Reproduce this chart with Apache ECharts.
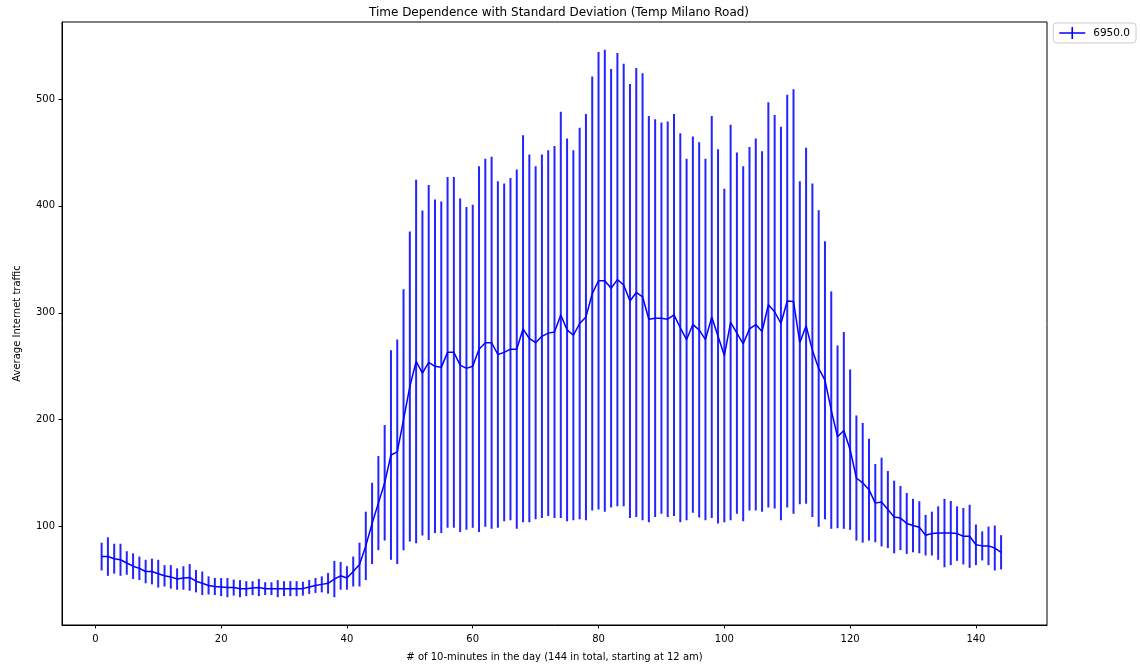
<!DOCTYPE html>
<html>
<head>
<meta charset="utf-8">
<script src="https://cdn.jsdelivr.net/npm/echarts@6/dist/echarts.min.js"></script>
<style>
html,body{margin:0;padding:0;background:#fff;}
#chart{width:1140px;height:667px;}
</style>
</head>
<body>
<div id="chart"></div>
<script>
// ---- data ----
const seriesName = "6950.0";
const xValues = Array.from({length:144},(_,i)=>i+1); // 10-minute slots 1..144
const meanTraffic = [
72,72,70,69,66,63,61,58,58,56,54,53,51,52,52.5,49,47,45,44,43.5,
43,43,42,42,42.5,43,42,42,42,42,42,42,42,43.6,45,46,47,51,54,52,
58,64.5,82,103,122,141,167,170,200,231,254.5,243.6,253.6,250,249,263,263,251,248,250,
266,272,272,261,263,266,266,285,276,272,278,281,282,298,284,279,290,296,318,330,
330,323,331,326,311,319,315,294,295,295,294,298,286,275,289,284,275,296,278,260,
291,281,271,285,289,282.5,307.5,301,290,311,310.6,272,288,265,248,237,209,184,190,172,
145.5,141,134.6,122,123,116,109,108,103,101,99.4,92,93.5,94,94,94,93.5,91,91,83,
82,82,80,76
];
const stdTraffic = [
13,18,14,15,11,12,11,11,12,13,10,11,10,11,12.5,10.5,11,8.5,8,8.5,
9,7.5,8,7,6.5,8,6,6,8,7,7,7,6.5,6.5,7,7.5,9.7,17,13,11,
14,20.5,32,38,44,54,98,105,122,145,170,152,166,156,155,164,164,156,151,151,
171,172,174,162,158,160,168,181,172,165,170,171,174,190,179,173,183,190,203,214,
216,205,212,207,203,210,209,190,186,183,185,188,182,169,176,175.5,169,188,175,156,
185,169,166,170,174,168.5,189.5,184,184,193,198.5,151,166.5,156,148,130,111,85.5,92,75,
58.5,56,47.6,36.6,41.5,36,34,30,28.5,25,24.3,19,20.5,25,32,30,25.5,26.4,29.5,19,
13.6,18,21,16
];
const xTicks = [0,20,40,60,80,100,120,140];
const yTicks = [100,200,300,400,500];

// ---- build ----
const lineData = xValues.map((x,i)=>[x, meanTraffic[i]]);
const errData = xValues.map((x,i)=>[x, meanTraffic[i]-stdTraffic[i], meanTraffic[i]+stdTraffic[i]]);

const FONT = 'DejaVu Sans';
const chart = echarts.init(document.getElementById('chart'), null, {renderer:'canvas'});
chart.setOption({
  animation:false,
  backgroundColor:'#fff',
  textStyle:{fontFamily:FONT},
  title:{
    text:'Time Dependence with Standard Deviation (Temp Milano Road)',
    left:554, top:2, textAlign:'center',
    textStyle:{fontFamily:FONT,fontSize:12,fontWeight:'normal',color:'#000'}
  },
  legend:{
    right:4, top:23,
    orient:'vertical',
    data:[{name:seriesName, icon:'path://M0,5.2 L26,5.2 L26,6.8 L0,6.8 Z M12.2,0 L13.8,0 L13.8,12 L12.2,12 Z M29,6 L29,6.01 L28.99,6 Z'}],
    itemWidth:29, itemHeight:12, itemGap:4,
    padding:[4,6,4,6],
    borderColor:'#cccccc', borderWidth:1, borderRadius:3,
    textStyle:{fontFamily:FONT,fontSize:10.5,color:'#000'}
  },
  grid:{left:62, top:22, width:985, height:603, show:true, borderColor:'#000', borderWidth:1, containLabel:false},
  xAxis:{
    type:'value', min:-5.3, max:151.3,
    name:'# of 10-minutes in the day (144 in total, starting at 12 am)',
    nameLocation:'middle', nameGap:27,
    nameTextStyle:{fontFamily:FONT,fontSize:10,color:'#000'},
    axisLine:{show:true,onZero:false,lineStyle:{color:'#000',width:1}},
    axisTick:{show:true,length:3.5,inside:false,lineStyle:{color:'#000'},customValues:xTicks},
    axisLabel:{fontFamily:FONT,fontSize:10,color:'#000',margin:9,customValues:xTicks},
    splitLine:{show:false}
  },
  yAxis:{
    type:'value', min:8, max:572,
    name:'Average Internet traffic',
    nameLocation:'middle', nameGap:40, nameRotate:90,
    nameTextStyle:{fontFamily:FONT,fontSize:10,color:'#000'},
    axisLine:{show:true,onZero:false,lineStyle:{color:'#000',width:1}},
    axisTick:{show:true,length:3.5,inside:false,lineStyle:{color:'#000'},customValues:yTicks},
    axisLabel:{fontFamily:FONT,fontSize:10,color:'#000',margin:7,customValues:yTicks},
    splitLine:{show:false}
  },
  series:[
    {
      type:'custom',
      name:seriesName,
      data:errData,
      z:2,
      encode:{x:0,y:[1,2]},
      renderItem:function(params, api){
        const x = api.value(0);
        const p1 = api.coord([x, api.value(1)]);
        const p2 = api.coord([x, api.value(2)]);
        return {type:'line', shape:{x1:p1[0],y1:p1[1],x2:p2[0],y2:p2[1]},
                style:{stroke:'#2424ff', lineWidth:2}};
      },
      itemStyle:{color:'#0000ff'}
    },
    {
      type:'line',
      name:seriesName,
      data:lineData,
      z:3,
      showSymbol:false,
      symbol:'none',
      lineStyle:{color:'#0000ff', width:1.5},
      itemStyle:{color:'#0000ff'}
    }
  ]
});
</script>
</body>
</html>
